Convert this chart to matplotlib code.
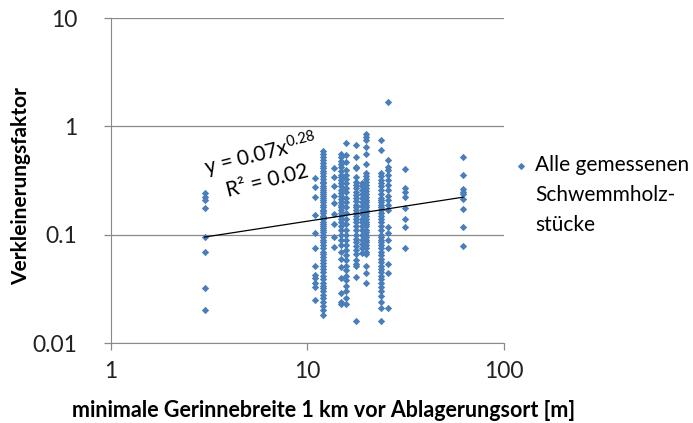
import numpy as np
import matplotlib
matplotlib.use("Agg")
import matplotlib.pyplot as plt

plt.rcParams['font.family'] = ['Lato', 'DejaVu Sans']
plt.rcParams['mathtext.fontset'] = 'custom'
plt.rcParams['mathtext.rm'] = 'Lato'
plt.rcParams['mathtext.it'] = 'Lato:italic'

# channel width columns [m] and measured reduction factors per column
widths = [3, 11, 12, 13.7, 14.8, 15.8, 17.7, 19, 20, 23.7, 25.6, 31.4, 62]

factors = [
    [0.241, 0.224, 0.209, 0.177, 0.096, 0.070, 0.032, 0.020],
    [0.331, 0.277, 0.224, 0.152, 0.103, 0.075, 0.051, 0.0425, 0.0395, 0.0356,
     0.033, 0.025],
    [0.60, 0.56, 0.52, 0.49, 0.46, 0.43, 0.41, 0.39, 0.37, 0.35, 0.33, 0.31,
     0.30, 0.28, 0.27, 0.26, 0.25, 0.24, 0.23, 0.22, 0.21, 0.20, 0.19, 0.18,
     0.17, 0.165, 0.16, 0.15, 0.145, 0.14, 0.13, 0.125, 0.12, 0.115, 0.11,
     0.105, 0.10, 0.095, 0.09, 0.085, 0.08, 0.075, 0.07, 0.066, 0.062, 0.058,
     0.055, 0.051, 0.048, 0.045, 0.042, 0.039, 0.036, 0.034, 0.032, 0.030,
     0.028, 0.026, 0.024, 0.022, 0.020, 0.018],
    [0.41, 0.34, 0.28, 0.23, 0.195, 0.157, 0.127, 0.096, 0.077],
    [0.56, 0.52, 0.48, 0.45, 0.42, 0.39, 0.36, 0.34, 0.32, 0.30, 0.28, 0.26,
     0.245, 0.23, 0.215, 0.20, 0.19, 0.18, 0.17, 0.16, 0.15, 0.14, 0.13, 0.12,
     0.11, 0.10, 0.09, 0.08, 0.07, 0.06, 0.05, 0.04, 0.029, 0.024, 0.023],
    [0.70, 0.55, 0.47, 0.40, 0.36, 0.33, 0.30, 0.27, 0.25, 0.22, 0.20, 0.18,
     0.16, 0.14, 0.125, 0.11, 0.10, 0.09, 0.08, 0.072, 0.065, 0.058, 0.052,
     0.047, 0.042, 0.038, 0.034, 0.030, 0.026, 0.023],
    [0.67, 0.525, 0.42, 0.41, 0.34, 0.31, 0.29, 0.27, 0.25, 0.235, 0.22, 0.205,
     0.19, 0.18, 0.17, 0.16, 0.15, 0.14, 0.13, 0.12, 0.11, 0.10, 0.092, 0.085,
     0.078, 0.072, 0.066, 0.058, 0.054, 0.051, 0.041, 0.016],
    [0.30, 0.28, 0.26, 0.24, 0.22, 0.20, 0.185, 0.17, 0.155, 0.14, 0.13, 0.12,
     0.11, 0.10, 0.09, 0.082, 0.075, 0.068],
    [0.86, 0.80, 0.75, 0.65, 0.56, 0.455, 0.37, 0.35, 0.33, 0.31, 0.29, 0.27,
     0.255, 0.24, 0.225, 0.21, 0.20, 0.19, 0.18, 0.17, 0.16, 0.15, 0.14, 0.13,
     0.125, 0.12, 0.11, 0.105, 0.10, 0.095, 0.09, 0.085, 0.08, 0.075, 0.07,
     0.066, 0.051, 0.044, 0.036],
    [0.75, 0.605, 0.37, 0.35, 0.32, 0.30, 0.28, 0.26, 0.24, 0.22, 0.21, 0.20,
     0.19, 0.18, 0.17, 0.16, 0.15, 0.14, 0.13, 0.12, 0.11, 0.10, 0.095, 0.09,
     0.085, 0.08, 0.075, 0.07, 0.065, 0.06, 0.056, 0.052, 0.048, 0.045, 0.042,
     0.039, 0.036, 0.033, 0.030, 0.027, 0.024, 0.021, 0.016],
    [1.69, 0.49, 0.42, 0.395, 0.355, 0.32, 0.29, 0.26, 0.23, 0.21, 0.19, 0.17,
     0.119, 0.103, 0.089, 0.075, 0.054, 0.044, 0.021],
    [0.404, 0.268, 0.25, 0.224, 0.175, 0.141, 0.119, 0.076],
    [0.518, 0.355, 0.262, 0.25, 0.237, 0.216, 0.172, 0.117, 0.079],
]

# power-law trend from the regression
coef_a = 0.07
coef_b = 0.28
r_squared = 0.02

x = np.concatenate([[w] * len(f) for w, f in zip(widths, factors)])
y = np.concatenate(factors)

blue = '#4a7ebb'
grey = '#898989'

fig = plt.figure(figsize=(6.93, 4.23), dpi=100)
ax = fig.add_axes([0.160, 0.189, 0.567, 0.768])

ax.scatter(x, y, marker='D', s=14, color=blue, linewidths=0, zorder=3,
           label='Alle gemessenen')

xt = np.linspace(min(widths), max(widths), 50)
ax.plot(xt, coef_a * xt ** coef_b, color='black', lw=0.9, zorder=4)

ax.set_xscale('log')
ax.set_yscale('log')
ax.set_xlim(1, 100)
ax.set_ylim(0.01, 10)
ax.set_xticks([1, 10, 100])
ax.set_xticklabels(['1', '10', '100'])
ax.set_yticks([0.01, 0.1, 1, 10])
ax.set_yticklabels(['0.01', '0.1', '1', '10'])
ax.minorticks_off()

ax.yaxis.grid(True, color=grey, lw=0.9)
ax.set_axisbelow(True)
for s in ['top', 'right']:
    ax.spines[s].set_visible(False)
for s in ['left', 'bottom']:
    ax.spines[s].set_color(grey)
ax.tick_params(axis='both', colors=grey, length=5, width=0.9, labelsize=16.5,
               labelcolor='#222222')
ax.tick_params(axis='x', pad=8)
ax.tick_params(axis='y', pad=19)

ax.set_xlabel('minimale Gerinnebreite 1 km vor Ablagerungsort [m]',
              fontsize=15.5, fontweight='bold')
ax.set_ylabel('Verkleinerungsfaktor', fontsize=15, fontweight='bold')
ax.xaxis.set_label_coords(0.542, -0.175)
ax.yaxis.set_label_coords(-0.204, 0.484)

eq = 'y = %.2fx$^{\\mathregular{%.2f}}$\nR² = %.2f' % (coef_a, coef_b, r_squared)
ax.text(6.0, 0.43, eq, fontsize=15, rotation=14, ha='center', va='center',
        multialignment='center', linespacing=1.25)

leg = ax.legend(loc='center left', bbox_to_anchor=(0.99, 0.548), frameon=False,
                fontsize=15, handletextpad=0.1, handlelength=1.2,
                borderaxespad=0.0)
ax.annotate('Schwemmholz-\nstücke', xy=(0, -0.5), xycoords=leg.get_texts()[0],
            ha='left', va='top', fontsize=15, linespacing=1.65, zorder=6)

fig.savefig('out.png', dpi=100)
